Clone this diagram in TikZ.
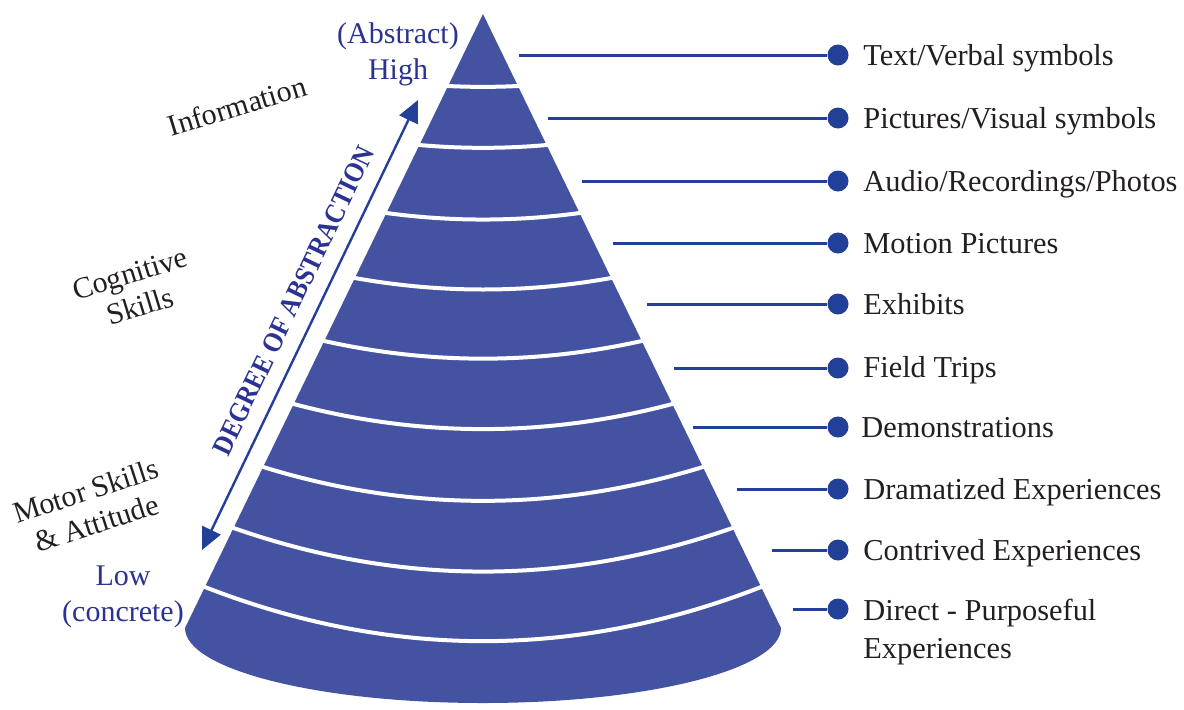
\documentclass[tikz,border=0pt]{standalone}
\usepackage{fontspec}
\setmainfont{Liberation Serif}
\usetikzlibrary{arrows.meta}
\definecolor{conefill}{RGB}{68,82,162}
\definecolor{leadercol}{RGB}{35,64,152}
\definecolor{bluetext}{RGB}{43,50,146}
\definecolor{darktext}{RGB}{35,31,32}
\begin{document}
\begin{tikzpicture}[x=0.5pt,y=-0.5pt,
  sepline/.style={white,line width=2pt,line cap=rect},
  leaderline/.style={leadercol,line width=1.5pt},
  dotnode/.style={circle,fill=leadercol,inner sep=0pt,minimum size=10.5pt},
  rlabel/.style={anchor=base west,inner sep=0pt,text=darktext,font=\fontsize{15.2}{19}\selectfont},
  bluelbl/.style={align=center,inner sep=0pt,text=bluetext,font=\fontsize{15}{18}\selectfont},
  graylbl/.style={align=center,inner sep=0pt,text=darktext,font=\fontsize{15}{17}\selectfont},
  absarrow/.style={leadercol,line width=1.2pt,{Triangle[length=11pt,width=10pt]}-{Triangle[length=11pt,width=10pt]}},
  abstext/.style={inner sep=0pt,text=bluetext,font=\fontsize{14}{16}\selectfont\bfseries}
]
\useasboundingbox (0,0) rectangle (1184,709);

% cone
\fill[conefill] (483,14) -- (185,628) arc[start angle=180,end angle=0,x radius=298,y radius=75] -- cycle;

% white band separators
\foreach \yy in {86,145,213,278,341,404,467,528,587}{
  \pgfmathsetmacro\hw{0.48534*(\yy-14)}
  \pgfmathsetmacro\dd{(0.026458*\hw)^2}
  \draw[sepline] ({483-\hw},\yy) .. controls ({483-\hw/3},{\yy+4*\dd/3}) and ({483+\hw/3},{\yy+4*\dd/3}) .. ({483+\hw},\yy);
}

% leaders
\coordinate (s1) at (519,55);  \node[dotnode] (d1) at (838,55) {};
\coordinate (s2) at (548,118); \node[dotnode] (d2) at (838,118) {};
\coordinate (s3) at (582,181); \node[dotnode] (d3) at (838,181) {};
\coordinate (s4) at (613,243); \node[dotnode] (d4) at (838,243) {};
\coordinate (s5) at (647,304); \node[dotnode] (d5) at (838,304) {};
\coordinate (s6) at (674,368); \node[dotnode] (d6) at (838,368) {};
\coordinate (s7) at (693,427); \node[dotnode] (d7) at (838,427) {};
\coordinate (s8) at (737,489); \node[dotnode] (d8) at (838,489) {};
\coordinate (s9) at (772,550); \node[dotnode] (d9) at (838,550) {};
\coordinate (s10) at (793,609); \node[dotnode] (d10) at (838,609) {};
\foreach \i in {1,...,10}{\draw[leaderline] (s\i) -- (d\i);}

\node[rlabel] (t1) at (863,65) {Text/Verbal symbols};
\node[rlabel] (t2) at (863,128) {Pictures/Visual symbols};
\node[rlabel] (t3) at (863,191) {Audio/Recordings/Photos};
\node[rlabel] (t4) at (863,253) {Motion Pictures};
\node[rlabel] (t5) at (863,314) {Exhibits};
\node[rlabel] (t6) at (863,377) {Field Trips};
\node[rlabel] (t7) at (861,437) {Demonstrations};
\node[rlabel] (t8) at (863,499) {Dramatized Experiences};
\node[rlabel] (t9) at (863,560) {Contrived Experiences};
\node[rlabel,anchor=north west,align=left] (t10) at (863,599) {Direct - Purposeful\\Experiences};

% left labels
\node[bluelbl] (high) at (398,54) {(Abstract)\\High};
\node[bluelbl] (low) at (123,597) {Low\\(concrete)};
\node[graylbl,rotate=17] (info) at (237,106) {Information};
\node[graylbl,rotate=17] (cog) at (135,290) {Cognitive\\Skills};
\node[graylbl,rotate=18] (motor) at (91,507) {Motor Skills\\\& Attitude};

% degree of abstraction arrow
\coordinate (alow) at (202,550);
\coordinate (ahigh) at (418,100);
\draw[absarrow] (alow) -- (ahigh) node[pos=0.53,sloped,above=7.5pt,abstext] (deg) {\scalebox{0.9}[1]{DEGREE OF ABSTRACTION}};
\end{tikzpicture}
\end{document}
